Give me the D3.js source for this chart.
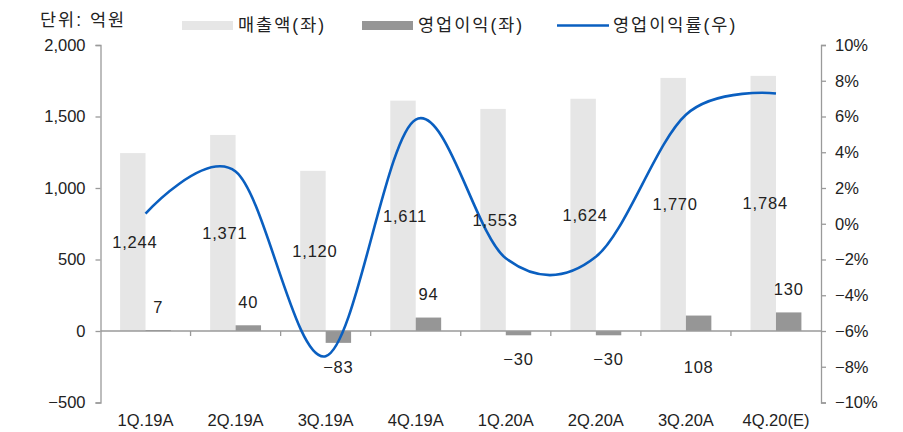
<!DOCTYPE html>
<html><head><meta charset="utf-8">
<script src="https://cdn.jsdelivr.net/npm/d3@7/dist/d3.min.js"></script>
<style>
body{margin:0;background:#fff;}
text{font-family:"Liberation Sans","Noto Sans CJK KR",Arial,sans-serif;fill:#222;}
.kr{font-family:"Liberation Sans","Noto Sans CJK KR",sans-serif;}
</style></head>
<body>
<svg id="c" width="903" height="432"></svg>
<script>
const categories = ["1Q.19A","2Q.19A","3Q.19A","4Q.19A","1Q.20A","2Q.20A","3Q.20A","4Q.20(E)"];
const revenue = [1244,1371,1120,1611,1553,1624,1770,1784];
const opProfit = [7,40,-83,94,-30,-30,108,130];
const opMargin = [0.56,2.92,-7.41,5.83,-1.93,-1.85,6.10,7.29];
const leftTicks = [-500,0,500,1000,1500,2000];
const rightTicks = [-10,-8,-6,-4,-2,0,2,4,6,8,10];
const legendLabels = ["매출액(좌)","영업이익(좌)","영업이익률(우)"];
const unitLabel = "단위: 억원";

const svg = d3.select("#c");
const x0 = 100.5, x1 = 821, yTop = 45, yBot = 402.5;
const x = d3.scaleBand().domain(categories).range([x0,x1]).paddingInner(0.435).paddingOuter(0.2175);
const sub = d3.scaleBand().domain(["rev","op"]).range([0,x.bandwidth()]);
const yL = d3.scaleLinear().domain([-500,2000]).range([yBot,yTop]);
const yR = d3.scaleLinear().domain([-10,10]).range([yBot,yTop]);
const fmt = d3.format(",");
const axisColor = "#9a9a9a";
const fs = 16.5;

// bars
svg.append("g").selectAll("rect").data(revenue).join("rect")
  .attr("x",(d,i)=>x(categories[i])+sub("rev"))
  .attr("width",sub.bandwidth())
  .attr("y",d=>yL(Math.max(0,d)))
  .attr("height",d=>Math.abs(yL(d)-yL(0)))
  .attr("fill","#e6e6e6");
svg.append("g").selectAll("rect").data(opProfit).join("rect")
  .attr("x",(d,i)=>x(categories[i])+sub("op"))
  .attr("width",sub.bandwidth())
  .attr("y",d=>yL(Math.max(0,d)))
  .attr("height",d=>Math.abs(yL(d)-yL(0)))
  .attr("fill","#969696");

// zero line with category ticks
const zg = svg.append("g");
zg.append("line").attr("x1",x0).attr("x2",x1).attr("y1",yL(0)).attr("y2",yL(0)).attr("stroke",axisColor).attr("stroke-width",1.3);
const bounds = categories.slice(1).map(c=>x(c)-x.step()*x.paddingInner()/2);
zg.selectAll("line.t").data(bounds).join("line").attr("class","t")
  .attr("x1",d=>d).attr("x2",d=>d).attr("y1",yL(0)).attr("y2",yL(0)+5)
  .attr("stroke",axisColor).attr("stroke-width",1.3);

// left axis
const la = svg.append("g").attr("transform",`translate(${x0},0)`)
  .call(d3.axisLeft(yL).tickValues(leftTicks).tickSize(5).tickPadding(10).tickFormat(d=>fmt(d).replace("-","−")));
la.select(".domain").attr("stroke",axisColor).attr("stroke-width",1.3);
la.selectAll(".tick line").attr("stroke",axisColor).attr("stroke-width",1.3);
la.selectAll(".tick text").attr("font-size",fs).attr("fill","#222").style("font-family",'"Liberation Sans",Arial,sans-serif');

// right axis
const ra = svg.append("g").attr("transform",`translate(${x1},0)`)
  .call(d3.axisRight(yR).tickValues(rightTicks).tickSize(5).tickPadding(9).tickFormat(d=>(d<0?"−"+(-d):d)+"%"));
ra.select(".domain").attr("stroke",axisColor).attr("stroke-width",1.3);
ra.selectAll(".tick line").attr("stroke",axisColor).attr("stroke-width",1.3);
ra.selectAll(".tick text").attr("font-size",fs).attr("fill","#222").style("font-family",'"Liberation Sans",Arial,sans-serif');

// x labels
svg.append("g").selectAll("text").data(categories).join("text")
  .attr("x",d=>x(d)+x.bandwidth()/2).attr("y",426)
  .attr("text-anchor","middle").attr("font-size",fs).text(d=>d);

// line
const line = d3.line()
  .x((d,i)=>x(categories[i])+x.bandwidth()/2)
  .y(d=>yR(d))
  .curve(d3.curveCardinal.tension(0));
svg.append("path").datum(opMargin).attr("d",line)
  .attr("fill","none").attr("stroke","#0a5fc0").attr("stroke-width",2.6);

// revenue labels
svg.append("g").selectAll("text").data(revenue).join("text")
  .attr("x",(d,i)=>x(categories[i])+sub("rev")+sub.bandwidth()/2+2)
  .attr("y",d=>yL(d/2)).attr("dy","0.36em")
  .attr("text-anchor","middle").attr("font-size",fs).attr("letter-spacing",0.8).text(d=>fmt(d));

// op labels
const belowOverride = ["3Q.20A"];
svg.append("g").selectAll("text").data(opProfit).join("text")
  .attr("x",(d,i)=>x(categories[i])+sub("op")+sub.bandwidth()/2)
  .attr("y",(d,i)=>{
    if (belowOverride.includes(categories[i])) return yL(0)+36;
    return d>=0 ? yL(d)-23 : yL(d)+24;
  })
  .attr("dy","0.36em")
  .attr("text-anchor","middle").attr("font-size",fs).attr("letter-spacing",0.8).text(d=>d<0?"−"+(-d):fmt(d));

// unit label
svg.append("text").attr("x",40).attr("y",26).attr("font-size",17.5).attr("letter-spacing",2).text(unitLabel);

// legend
const lg = svg.append("g");
const items = [
  {x:182, type:"rect", color:"#e6e6e6"},
  {x:362, type:"rect", color:"#969696"},
  {x:557, type:"line", color:"#0a5fc0"}
];
items.forEach((it,i)=>{
  if(it.type==="rect") lg.append("rect").attr("x",it.x).attr("y",21).attr("width",51).attr("height",9).attr("fill",it.color);
  else lg.append("line").attr("x1",it.x).attr("x2",it.x+52).attr("y1",25.5).attr("y2",25.5).attr("stroke",it.color).attr("stroke-width",2.6);
  lg.append("text").attr("x",it.x+56).attr("y",31).attr("font-size",17.5).attr("letter-spacing",2).text(legendLabels[i]);
});
</script>
</body></html>
